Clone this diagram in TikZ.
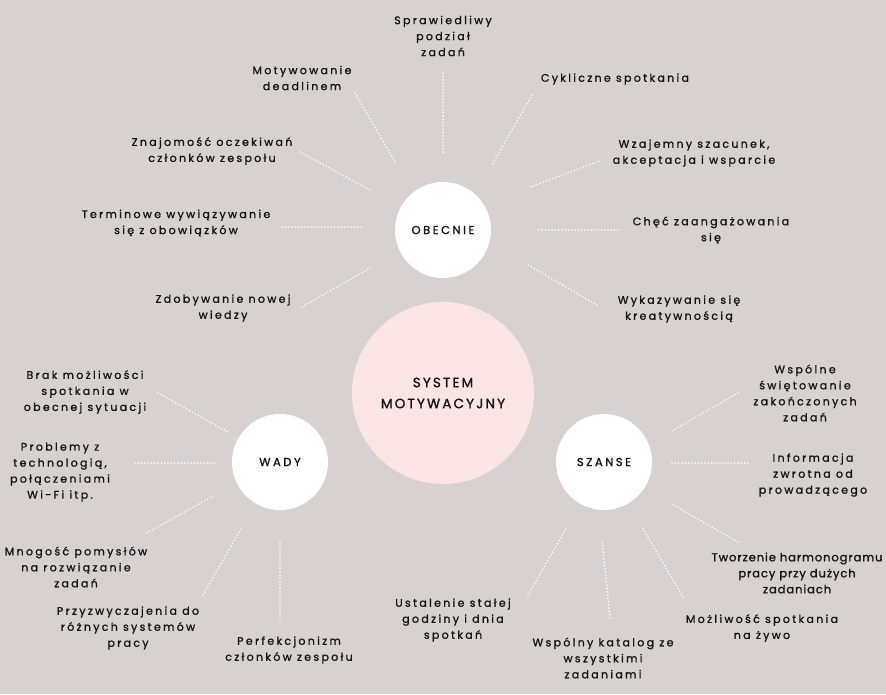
\documentclass[tikz,border=0pt]{standalone}
\usepackage{fontspec}
\setmainfont{Poppins}
\newfontfamily\lbl{Poppins}[LetterSpace=21,FakeBold=1.2]
\newfontfamily\lbltight{Poppins}[LetterSpace=8,FakeBold=1.2]
\newfontfamily\circfont{Poppins}[LetterSpace=22,FakeBold=1.4]
\newfontfamily\bigfont{Poppins}[LetterSpace=16,FakeBold=1.3]
\definecolor{bg}{RGB}{215,210,209}
\definecolor{pinkc}{RGB}{251,228,228}
\definecolor{ink}{RGB}{20,20,20}
\begin{document}
\begin{tikzpicture}[x=1pt,y=-1pt,
  txt/.style={inner sep=0pt,align=center,text=ink,font=\lbl\fontsize{11}{16}\selectfont},
  txtb/.style={inner sep=0pt,align=center,text=ink,font=\lbltight\fontsize{11.5}{16}\selectfont},
  bubble/.style={circle,fill=white,minimum size=96pt,inner sep=0pt,text=ink,font=\circfont\fontsize{11.5}{12}\selectfont},
  hub/.style={circle,fill=pinkc,minimum size=182pt,inner sep=0pt,align=center,text=ink,font=\bigfont\fontsize{13.5}{21}\selectfont},
  dots/.style={white,line width=1.8pt,line cap=round,dash pattern=on 0pt off 3.3pt}]
\fill[bg] (0,0) rectangle (886,694);
\useasboundingbox (0,0) rectangle (886,694);
% circles
\node[hub] (sys) at (443,393) {SYSTEM\\MOTYWACYJNY};
\node[bubble] (obe) at (443,230) {OBECNIE};
\node[bubble] (wady) at (280,462) {WADY};
\node[bubble] (sza) at (604,462) {SZANSE};
% texts
\node[txt] (spraw) at (443,36) {Sprawiedliwy\\podział\\zadań};
\node[txt] (motyw) at (302,78) {Motywowanie\\deadlinem};
\node[txt] (cykl) at (615,79) {Cykliczne spotkania};
\node[txt] (znaj) at (212,151) {Znajomość oczekiwań\\członków zespołu};
\node[txt] (wzaj) at (694,153) {Wzajemny szacunek,\\akceptacja i wsparcie};
\node[txt] (term) at (176,223) {Terminowe wywiązywanie\\się z obowiązków};
\node[txt] (chec) at (711,230) {Chęć zaangażowania\\się};
\node[txt] (zdob) at (223,308) {Zdobywanie nowej\\wiedzy};
\node[txt] (wykaz) at (679,309) {Wykazywanie się\\kreatywnością};
\node[txt] (brak) at (85,392) {Brak możliwości\\spotkania w\\obecnej sytuacji};
\node[txt] (probl) at (60,472) {Problemy z\\technologią,\\połączeniami\\Wi-Fi itp.};
\node[txt] (mnog) at (76,567) {Mnogość pomysłów\\na rozwiązanie\\zadań};
\node[txt] (przyz) at (128,628) {Przyzwyczajenia do\\różnych systemów\\pracy};
\node[txt] (perf) at (289,650) {Perfekcjonizm\\członków zespołu};
\node[txt] (wspsw) at (805,393) {Wspólne\\świętowanie\\zakończonych\\zadań};
\node[txt] (inform) at (813,475) {Informacja\\zwrotna od\\prowadzącego};
\node[txtb] (tworz) at (797,573) {Tworzenie harmonogramu\\pracy przy dużych\\zadaniach};
\node[txt] (mozl) at (762,628) {Możliwość spotkania\\na żywo};
\node[txt] (ustal) at (453,620) {Ustalenie stałej\\godziny i dnia\\spotkań};
\node[txt] (katal) at (603,658) {Wspólny katalog ze\\wszystkimi\\zadaniami};
% connector end points
\coordinate (o1a) at (443,73);  \coordinate (o1b) at (443,153);
\coordinate (o2a) at (355,93);  \coordinate (o2b) at (395,162);
\coordinate (o3a) at (532,95);  \coordinate (o3b) at (492,165);
\coordinate (o4a) at (300,152); \coordinate (o4b) at (370,190);
\coordinate (o5a) at (602,160); \coordinate (o5b) at (528,188);
\coordinate (o6a) at (282,227); \coordinate (o6b) at (362,227);
\coordinate (o7a) at (618,230); \coordinate (o7b) at (538,230);
\coordinate (o8a) at (302,307); \coordinate (o8b) at (372,267);
\coordinate (o9a) at (597,305); \coordinate (o9b) at (528,265);
\coordinate (w1a) at (158,393); \coordinate (w1b) at (228,432);
\coordinate (w2a) at (135,463); \coordinate (w2b) at (215,463);
\coordinate (w3a) at (147,533); \coordinate (w3b) at (215,495);
\coordinate (w4a) at (203,595); \coordinate (w4b) at (242,527);
\coordinate (w5a) at (280,618); \coordinate (w5b) at (280,540);
\coordinate (s1a) at (738,393); \coordinate (s1b) at (670,432);
\coordinate (s2a) at (748,463); \coordinate (s2b) at (670,463);
\coordinate (s3a) at (738,542); \coordinate (s3b) at (670,503);
\coordinate (s4a) at (683,597); \coordinate (s4b) at (642,527);
\coordinate (s5a) at (610,618); \coordinate (s5b) at (602,540);
\coordinate (s6a) at (528,595); \coordinate (s6b) at (567,527);
\foreach \p in {o1,o2,o3,o4,o5,o6,o7,o8,o9,w1,w2,w3,w4,w5,s1,s2,s3,s4,s5,s6}
  \draw[dots] (\p a) -- (\p b);
\end{tikzpicture}
\end{document}
